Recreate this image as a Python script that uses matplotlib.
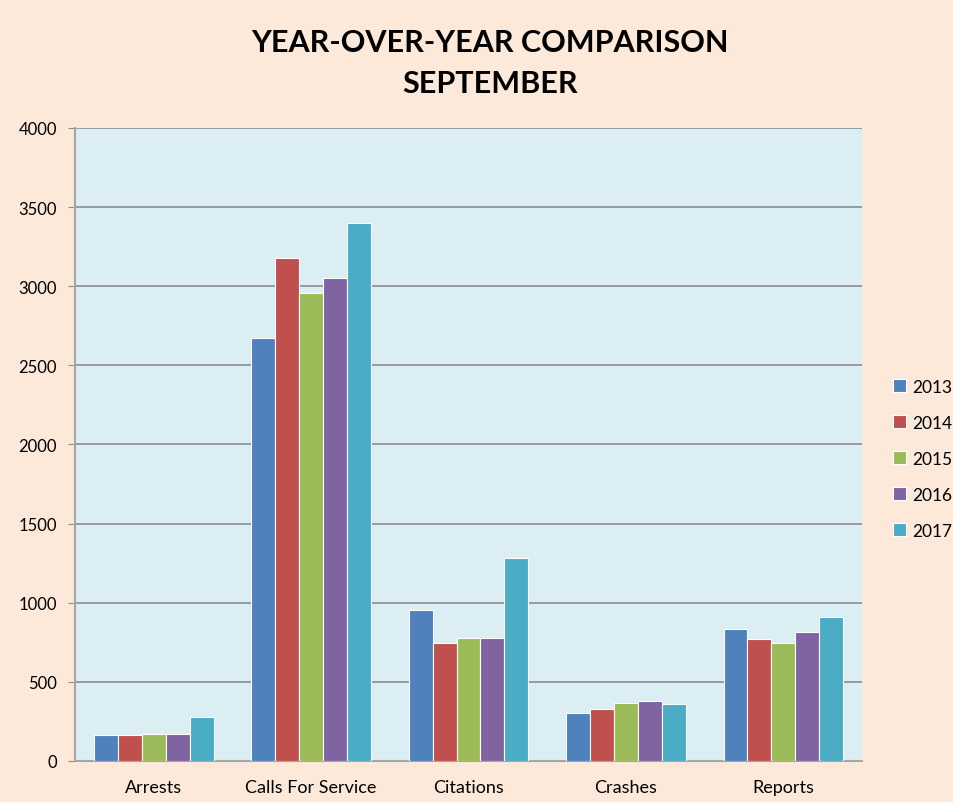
import matplotlib
matplotlib.use("Agg")
import matplotlib.pyplot as plt
import numpy as np

categories = ["Arrests", "Calls For Service", "Citations", "Crashes", "Reports"]
years = ["2013", "2014", "2015", "2016", "2017"]
v2013 = [162, 2671, 957, 300, 837]
v2014 = [162, 3179, 744, 327, 773]
v2015 = [169, 2960, 780, 365, 746]
v2016 = [169, 3051, 775, 379, 813]
v2017 = [276, 3400, 1285, 358, 910]
series = [v2013, v2014, v2015, v2016, v2017]
colors = ["#4F81BD", "#C0504D", "#9BBB59", "#8064A2", "#4BACC6"]
yticks = [0, 500, 1000, 1500, 2000, 2500, 3000, 3500, 4000]

plt.rcParams['font.family'] = ['Lato', 'DejaVu Sans']

fig = plt.figure(figsize=(9.54, 8.03), dpi=100)
fig.patch.set_facecolor("#FDE9D9")
ax = fig.add_axes([0.0786, 0.0511, 0.825, 0.7883])
ax.set_facecolor("#DBEEF4")

x = np.arange(len(categories))
w = 0.152
for i, (vals, c, yr) in enumerate(zip(series, colors, years)):
    ax.bar(x + (i - 2) * w, vals, width=w, color=c, edgecolor="white",
           linewidth=0.8, label=yr, zorder=3)

ax.set_xlim(-0.5, len(categories) - 0.5)
ax.set_ylim(0, 4000)
ax.set_yticks(yticks)
ax.set_yticklabels([str(t) for t in yticks], fontsize=12)
ax.set_xticks(x)
ax.set_xticklabels(categories, fontsize=13)
ax.tick_params(axis="x", length=0, pad=13)
ax.tick_params(axis="y", length=5, color="#8C8C8C", pad=8)
ax.yaxis.grid(True, color="#8C8C8C", linewidth=1.2, zorder=0)
for s in ["top", "right"]:
    ax.spines[s].set_visible(False)
for s in ["left", "bottom"]:
    ax.spines[s].set_color("#A6A6A6")
    ax.spines[s].set_linewidth(1.5)

fig.text(0.514, 0.947, "YEAR-OVER-YEAR COMPARISON", ha="center", va="center",
         fontsize=22, fontweight="bold")
fig.text(0.514, 0.895, "SEPTEMBER", ha="center", va="center",
         fontsize=22, fontweight="bold")

leg = fig.legend(loc="center left", bbox_to_anchor=(0.936, 0.4275), frameon=False,
                 fontsize=12.5, handlelength=0.75, handleheight=0.75,
                 handletextpad=0.35, labelspacing=1.15, borderpad=0,
                 borderaxespad=0)

fig.savefig("out.png", dpi=100, facecolor=fig.get_facecolor())
